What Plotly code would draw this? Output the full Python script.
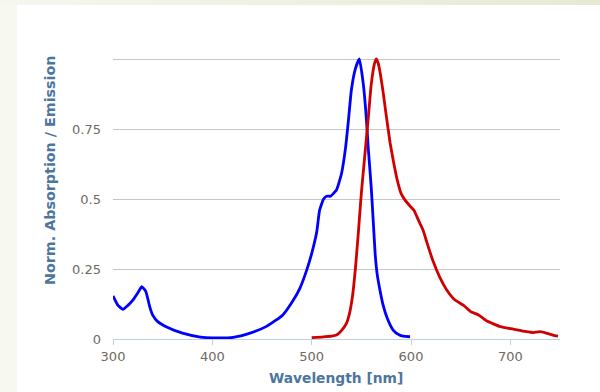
import plotly.graph_objects as go

# Absorption (blue)
abs_nm = [300, 305, 310, 315, 320, 325, 329, 333, 337, 340, 345, 354, 370, 388, 400, 421, 438, 455,
          471, 480, 488, 495, 500, 505, 508, 512, 515, 519, 522, 525, 530, 534, 537, 540, 544, 548,
          552, 555, 557, 560, 562, 564, 566, 569, 572, 576, 582, 588, 592, 599]
abs_val = [0.154, 0.12, 0.106, 0.12, 0.139, 0.165, 0.187, 0.17, 0.115, 0.085, 0.062, 0.043, 0.021, 0.007,
           0.004, 0.006, 0.021, 0.046, 0.086, 0.13, 0.18, 0.246, 0.305, 0.38, 0.46, 0.50, 0.51, 0.51,
           0.52, 0.532, 0.59, 0.68, 0.78, 0.89, 0.965, 1.0, 0.91, 0.79, 0.68, 0.54, 0.42, 0.30, 0.23,
           0.17, 0.12, 0.075, 0.032, 0.015, 0.01, 0.008]

# Emission (red)
em_nm = [500, 510, 520, 525, 530, 535, 538, 541, 544, 547, 550, 554, 557, 560, 563, 565, 567, 569, 572,
         575, 579, 582, 586, 590, 594, 599, 603, 608, 612, 616, 622, 629, 636, 644, 653, 660, 668, 676,
         690, 703, 716, 723, 730, 737, 745, 748]
em_val = [0.005, 0.007, 0.01, 0.014, 0.03, 0.056, 0.09, 0.15, 0.25, 0.38, 0.52, 0.675, 0.79, 0.91, 0.98,
          1.0, 0.985, 0.95, 0.88, 0.80, 0.70, 0.64, 0.57, 0.52, 0.496, 0.475, 0.46, 0.42, 0.39, 0.345,
          0.28, 0.22, 0.175, 0.14, 0.12, 0.098, 0.086, 0.065, 0.044, 0.035, 0.026, 0.023, 0.026, 0.02,
          0.012, 0.01]

x_ticks = [300, 400, 500, 600, 700]
y_ticks = [0, 0.25, 0.5, 0.75, 1.0]
y_ticktext = ["0", "0.25", "0.5", "0.75", ""]

x_title = "Wavelength [nm]"
y_title = "Norm. Absorption / Emission"

W, H = 600, 392
ML, MR, MT, MB = 113, 40, 45, 53
PW, PH = W - ML - MR, H - MT - MB

def px_x(px):
    return (px - ML) / PW

def px_y(py):
    return (H - MB - py) / PH

fig = go.Figure()
fig.add_trace(go.Scatter(x=abs_nm, y=abs_val, mode="lines",
                         line=dict(color="#0000ff", width=2.8, shape="spline", smoothing=0.45),
                         showlegend=False, hoverinfo="skip"))
fig.add_trace(go.Scatter(x=em_nm, y=em_val, mode="lines",
                         line=dict(color="#d00000", width=2.8, shape="spline", smoothing=0.45),
                         showlegend=False, hoverinfo="skip"))

shapes = []
# left pale strip
shapes.append(dict(type="rect", xref="paper", yref="paper", layer="below",
                   x0=px_x(0), x1=px_x(17), y0=px_y(H), y1=px_y(0),
                   fillcolor="#f7f8ef", line=dict(width=0)))
# top gradient strip
c0 = (0xf5, 0xf6, 0xee)
c1 = (0xe5, 0xeb, 0xd3)
n = 24
for i in range(n):
    t = i / (n - 1)
    col = "rgb(%d,%d,%d)" % tuple(round(a + (b - a) * t) for a, b in zip(c0, c1))
    shapes.append(dict(type="rect", xref="paper", yref="paper", layer="below",
                       x0=px_x(W * i / n), x1=px_x(W * (i + 1) / n + 1), y0=px_y(5), y1=px_y(0),
                       fillcolor=col, line=dict(width=0)))

annotations = [
    dict(text="<b>" + y_title + "</b>", textangle=-90, xref="paper", yref="paper",
         x=px_x(50), y=px_y(171), xanchor="center", yanchor="middle", showarrow=False,
         font=dict(family="DejaVu Sans", size=14.3, color="#4d759e")),
    dict(text="<b>" + x_title + "</b>", xref="paper", yref="paper",
         x=px_x(336), y=px_y(378), xanchor="center", yanchor="middle", showarrow=False,
         font=dict(family="DejaVu Sans", size=13.8, color="#4d759e")),
]

fig.update_layout(
    width=W, height=H,
    margin=dict(l=ML, r=MR, t=MT, b=MB, pad=0),
    paper_bgcolor="white", plot_bgcolor="white",
    shapes=shapes, annotations=annotations,
    font=dict(family="DejaVu Sans", size=13, color="#6f6a62"),
    xaxis=dict(range=[300, 750], tickvals=x_ticks, showgrid=False, zeroline=False,
               showline=True, linecolor="#c0d0e0", linewidth=1,
               ticks="outside", ticklen=5, tickcolor="#c0d0e0", tickwidth=1,
               tickfont=dict(size=13, color="#6f6a62")),
    yaxis=dict(range=[0, 1.05], tickvals=y_ticks, ticktext=y_ticktext, showgrid=True,
               gridcolor="#c6c6c6", gridwidth=1, zeroline=False, showline=False,
               ticks="", ticklabelstandoff=11,
               tickfont=dict(size=13, color="#6f6a62")),
)

fig.write_html("out.html", config={"displayModeBar": False},
               post_script="document.body.style.margin='0';document.body.style.padding='0';"
                           "document.body.style.overflow='hidden';")
